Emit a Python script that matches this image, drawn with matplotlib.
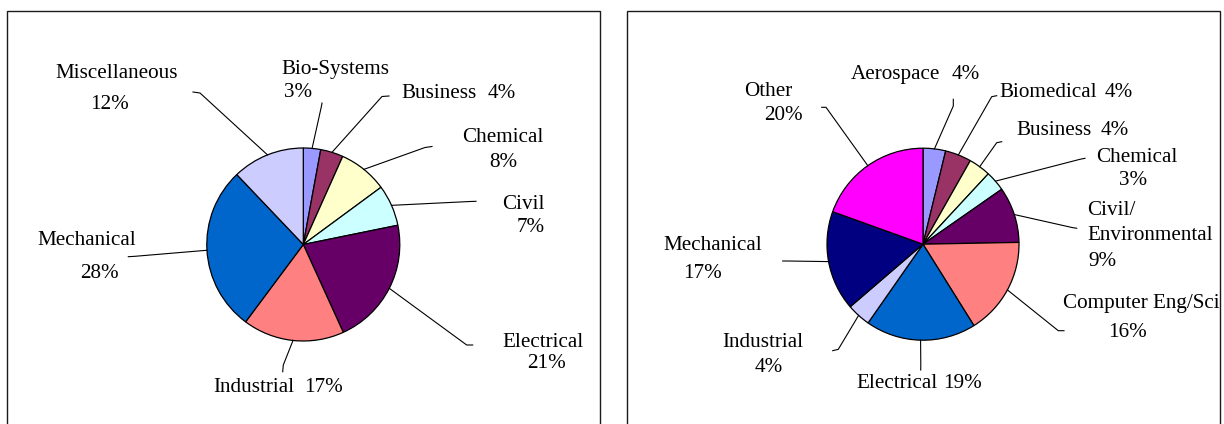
import matplotlib
matplotlib.use('Agg')
import matplotlib.pyplot as plt
from matplotlib.patches import Rectangle
import numpy as np

# ---------------- data ----------------
left_categories = ['Bio-Systems', 'Business', 'Chemical', 'Civil', 'Electrical',
                   'Industrial', 'Mechanical', 'Miscellaneous']
left_values = [2.9, 3.8, 8.2, 6.9, 21.4, 17.0, 27.7, 12.1]
left_colors = ['#9999FF', '#993366', '#FFFFCC', '#CCFFFF', '#660066',
               '#FF8080', '#0066CC', '#CCCCFF']

right_categories = ['Aerospace', 'Biomedical', 'Business', 'Chemical',
                    'Civil/\nEnvironmental', 'Computer Eng/Sci', 'Electrical',
                    'Industrial', 'Mechanical', 'Other']
right_values = [3.8, 4.4, 3.7, 3.4, 9.4, 16.4, 18.6, 4.0, 16.8, 19.5]
right_colors = ['#9999FF', '#993366', '#FFFFCC', '#CCFFFF', '#660066',
                '#FF8080', '#0066CC', '#CCCCFF', '#000080', '#FF00FF']

# ---------------- layout (pixel coords, y measured from top) ----------------
W, H = 1224, 424
FONT = 'Liberation Serif'
FS = 15.2

left_frame = (7, 11, 600, 440)     # x0, top, x1, bottom
right_frame = (627, 11, 1220, 440)
left_pie = (303.3, 244.5, 96.5)    # cx, cy, r
right_pie = (923.0, 244.2, 96.0)

# for each wedge: positions of label parts (name lines..., pct) as (x, baseline, ha)
left_text_pos = [
    [(281, 74, 'left'), (284, 97, 'left')],
    [(401, 98, 'left'), (516, 98, 'right')],
    [(503, 142, 'center'), (503, 167, 'center')],
    [(545, 209, 'right'), (545, 232, 'right')],
    [(543, 347, 'center'), (546.5, 368, 'center')],
    [(213, 392, 'left'), (343, 392, 'right')],
    [(87, 245, 'center'), (99.5, 278, 'center')],
    [(117, 78, 'center'), (109, 109, 'center')],
]
left_leader = [
    [(321.5, 106), (322, 103)],
    [(382, 96.5), (389, 96)],
    [(425, 147.5), (432, 146.5)],
    [(470, 201.5), (476, 201.3)],
    [(466.7, 345), (472.7, 345)],
    [(283.3, 365), (282.7, 371.7)],
    [(135, 256.3), (128.3, 256.7)],
    [(200, 93), (193, 92)],
]

right_text_pos = [
    [(851, 79.3, 'left'), (980, 79.3, 'right')],
    [(999, 96.7, 'left'), (1133.3, 96.7, 'right')],
    [(1016.7, 135, 'left'), (1129.3, 135, 'right')],
    [(1137, 162.3, 'center'), (1133.5, 185, 'center')],
    [(1087, 215, 'left'), (1087, 240, 'left'), (1088, 266, 'left')],
    [(1062.7, 308.3, 'left'), (1127, 336.7, 'center')],
    [(856, 388.3, 'left'), (982.3, 388.3, 'right')],
    [(762.7, 346.7, 'center'), (769, 371.7, 'center')],
    [(713, 250, 'center'), (702, 277.7, 'center')],
    [(768, 95.7, 'center'), (783, 120, 'center')],
]
right_leader = [
    [(953.3, 106), (953.3, 99.3)],
    [(991.7, 96.7), (996.7, 95.7)],
    [(996.7, 142.7), (1001.7, 141.7)],
    [(1080, 159.3), (1085, 158.3)],
    [(1072, 227.5), (1076.7, 228.3)],
    [(1058.3, 330.7), (1064, 330.7)],
    [(920.8, 365), (920.7, 370)],
    [(838.3, 349.3), (832.7, 350.7)],
    [(787, 261), (782.7, 261)],
    [(826, 107.3), (821.7, 107.3)],
]

fig = plt.figure(figsize=(W / 100, H / 100), dpi=100)
ax = fig.add_axes([0, 0, 1, 1])


def Y(py):
    return H - py


def draw_chart(cats, vals, cols, frame, pie, text_pos, leaders):
    x0, top, x1, bot = frame
    rect = Rectangle((x0, Y(bot)), x1 - x0, bot - top, facecolor='white',
                     edgecolor='#1a1a1a', linewidth=1.0, zorder=0)
    ax.add_patch(rect)
    clip = Rectangle((x0, Y(bot)), x1 - x0, bot - top, transform=ax.transData,
                     fill=False, edgecolor='none')
    cx, cy, r = pie
    ax.pie(vals, colors=cols, startangle=90, counterclock=False,
           center=(cx, Y(cy)), radius=r,
           wedgeprops=dict(edgecolor='black', linewidth=0.9))
    total = float(sum(vals))
    cum = np.cumsum([0] + list(vals))
    for i, (cat, v) in enumerate(zip(cats, vals)):
        f = (cum[i] + v / 2.0) / total
        ex = cx + r * np.sin(2 * np.pi * f)
        ey = Y(cy) + r * np.cos(2 * np.pi * f)
        (elx, ely), (tx, ty) = leaders[i]
        ax.plot([ex, elx, tx], [ey, Y(ely), Y(ty)], color='black',
                linewidth=0.8, solid_joinstyle='miter', zorder=3)
        pct = int(100.0 * v / total + 0.5)
        parts = cat.split('\n') + [f'{pct}%']
        for s, (px, py, ha) in zip(parts, text_pos[i]):
            t = ax.text(px, Y(py), s, ha=ha, va='baseline', fontsize=FS,
                        family=FONT, color='black', zorder=4)
            t.set_clip_path(clip)


draw_chart(left_categories, left_values, left_colors, left_frame, left_pie,
           left_text_pos, left_leader)
draw_chart(right_categories, right_values, right_colors, right_frame, right_pie,
           right_text_pos, right_leader)

ax.set_xlim(0, W)
ax.set_ylim(0, H)
ax.set_aspect('equal')
ax.axis('off')

fig.savefig('out.png', dpi=100, facecolor='white')
